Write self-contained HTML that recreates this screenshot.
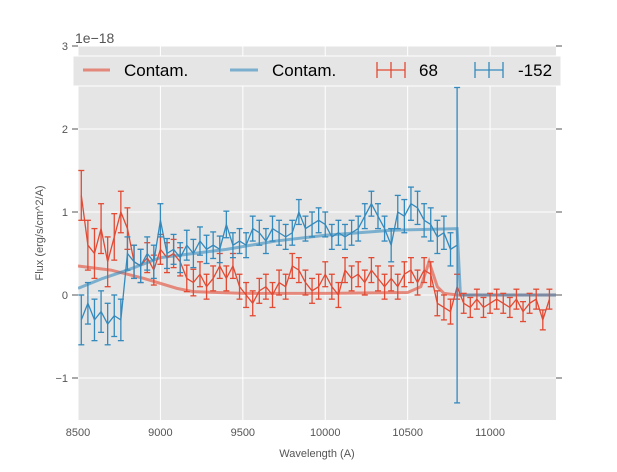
<!DOCTYPE html>
<html><head><meta charset="utf-8"><style>
body{margin:0;background:#fff;font-family:"Liberation Sans",sans-serif}
svg text{font-family:"Liberation Sans",sans-serif}
</style></head><body>
<svg id="chart" width="617" height="467" xmlns="http://www.w3.org/2000/svg">
<rect x="78" y="46" width="478" height="374" fill="#e5e5e5"/>
<g id="grid"></g><g id="ticks"></g><g id="series"></g>
<text x="75" y="43" font-size="14" fill="#555">1e−18</text>
<text x="317" y="457" font-size="11" fill="#555" text-anchor="middle">Wavelength (A)</text>
<text transform="translate(43,233) rotate(-90)" font-size="11" fill="#555" text-anchor="middle">Flux (erg/s/cm^2/A)</text>
<g>
<rect x="73" y="56" width="488" height="30" fill="#e5e5e5" stroke="#fff"/>
<g><line x1="83" y1="70" x2="110" y2="70" stroke="#E24A33" stroke-opacity="0.6" stroke-width="3"/><text x="124" y="76" font-size="17" fill="#000">Contam.</text></g>
<g><line x1="230" y1="70" x2="258" y2="70" stroke="#348ABD" stroke-opacity="0.6" stroke-width="3"/><text x="272" y="76" font-size="17" fill="#000">Contam.</text></g>
<g stroke="#E24A33" stroke-width="1.3"><line x1="377" y1="70" x2="405" y2="70"/><line x1="377" y1="62" x2="377" y2="78"/><line x1="405" y1="62" x2="405" y2="78"/><line x1="391" y1="62" x2="391" y2="78"/><text x="419" y="76" font-size="17" fill="#000" stroke="none">68</text></g>
<g stroke="#348ABD" stroke-width="1.3"><line x1="475" y1="70" x2="503" y2="70"/><line x1="475" y1="62" x2="475" y2="78"/><line x1="503" y1="62" x2="503" y2="78"/><line x1="489" y1="62" x2="489" y2="78"/><text x="518" y="76" font-size="17" fill="#000" stroke="none">-152</text></g>
</g>
</svg>
<script>
const xTicks=[8500,9000,9500,10000,10500,11000];
const yTicks=[-1,0,1,2,3];
const yTickLabels=["−1","0","1","2","3"];
const wlStart=8520, wlStep=40;
const red68=[1.2,0.6,0.5,0.8,0.4,0.7,1.0,0.8,0.4,0.35,0.45,0.3,0.55,0.45,0.5,0.4,0.2,0.15,0.25,0.1,0.2,0.35,0.2,0.35,0.1,0.0,-0.1,0.05,0.1,0.0,0.15,0.1,0.35,0.3,0.15,0.05,0.1,0.25,0.1,0.0,0.3,0.2,0.25,0.15,0.3,0.2,0.1,0.2,0.1,0.25,0.3,0.15,0.3,0.25,-0.1,-0.15,-0.2,0.1,-0.1,-0.15,-0.05,-0.15,-0.1,-0.05,-0.1,-0.15,-0.05,-0.2,-0.1,-0.05,-0.3,-0.05];
const red68Err=[0.3,0.3,0.3,0.3,0.3,0.28,0.25,0.25,0.2,0.2,0.18,0.18,0.18,0.18,0.17,0.17,0.16,0.16,0.15,0.15,0.15,0.15,0.15,0.15,0.15,0.15,0.15,0.15,0.15,0.15,0.15,0.15,0.15,0.15,0.15,0.15,0.15,0.15,0.15,0.15,0.15,0.15,0.15,0.15,0.15,0.15,0.15,0.15,0.15,0.15,0.15,0.15,0.15,0.15,0.15,0.15,0.15,0.15,0.12,0.12,0.12,0.12,0.12,0.12,0.12,0.12,0.12,0.12,0.12,0.12,0.12,0.12];
const blue152=[-0.3,-0.1,-0.3,-0.2,-0.35,-0.25,-0.3,0.5,0.4,0.35,0.5,0.4,0.9,0.5,0.55,0.45,0.6,0.5,0.65,0.55,0.6,0.55,0.85,0.6,0.65,0.6,0.8,0.75,0.65,0.8,0.75,0.7,0.75,1.0,0.8,0.85,0.9,0.85,0.7,0.75,0.7,0.75,0.8,0.95,1.1,0.95,0.8,0.6,1.0,0.95,1.1,1.05,0.9,0.85,0.7,0.75,0.55,0.6];
const blue152Err=[0.3,0.25,0.25,0.25,0.25,0.25,0.25,0.2,0.2,0.2,0.2,0.2,0.2,0.18,0.18,0.18,0.18,0.17,0.17,0.17,0.16,0.16,0.16,0.15,0.15,0.15,0.15,0.15,0.15,0.15,0.15,0.15,0.15,0.15,0.15,0.15,0.15,0.15,0.15,0.15,0.15,0.15,0.15,0.15,0.15,0.15,0.15,0.2,0.2,0.2,0.2,0.2,0.2,0.2,0.2,0.2,0.2,1.9];
const contamWl=[8500,8700,8900,9100,9200,9500,10000,10500,10580,10630,10680,10720,10800,10820,11400];
const contamRed=[0.35,0.3,0.2,0.08,0.04,0.02,0.02,0.03,0.1,0.4,0.1,0.02,0.0,0.0,0.0];
const contamBlueWl=[8500,8650,8800,9000,9200,9400,9700,10000,10400,10800,10820,11400];
const contamBlue=[0.08,0.2,0.3,0.45,0.5,0.55,0.65,0.72,0.78,0.8,0.0,0.0];
const X=v=>78+(v-8500)*478/2900, Y=v=>295-v*83;
const NS="http://www.w3.org/2000/svg";
function mk(p,tag,at){const e=document.createElementNS(NS,tag);for(const k in at)e.setAttribute(k,at[k]);p.appendChild(e);return e;}
const grid=document.getElementById('grid'),ticks=document.getElementById('ticks'),ser=document.getElementById('series');
xTicks.forEach(t=>{const g=mk(grid,'line',{x1:X(t),x2:X(t),y1:46,y2:420,stroke:'#fff','stroke-width':1});


const l=mk(ticks,'text',{x:X(t),y:436,'font-size':11,fill:'#555','text-anchor':'middle'});l.textContent=t;

});
yTicks.forEach((t,i)=>{const g=mk(grid,'line',{x1:78,x2:556,y1:Y(t),y2:Y(t),stroke:'#fff','stroke-width':1});


mk(ticks,'line',{x1:72,x2:78,y1:Y(t),y2:Y(t),stroke:'#555'});mk(ticks,'line',{x1:556,x2:562,y1:Y(t),y2:Y(t),stroke:'#555'});
const l=mk(ticks,'text',{x:68,y:Y(t)+4,'font-size':11,fill:'#555','text-anchor':'end'});l.textContent=yTickLabels[i];

});
const clip=mk(document.getElementById('chart'),'clipPath',{id:'pc'});mk(clip,'rect',{x:78,y:46,width:478,height:374});
ser.setAttribute('clip-path','url(#pc)');
function contam(wl,vals,col,name){const p=mk(ser,'polyline',{points:wl.map((w,i)=>X(w)+','+Y(vals[i])).join(' '),fill:'none',stroke:col,'stroke-opacity':0.6,'stroke-width':3});

}
function errs(vals,err,col,name){const g=mk(ser,'g',{stroke:col,'stroke-width':1.3,fill:'none'});


vals.forEach((v,i)=>{const x=X(wlStart+wlStep*i);mk(g,'line',{x1:x,x2:x,y1:Y(v+err[i]),y2:Y(v-err[i])});
mk(g,'line',{x1:x-3,x2:x+3,y1:Y(v+err[i]),y2:Y(v+err[i])});mk(g,'line',{x1:x-3,x2:x+3,y1:Y(v-err[i]),y2:Y(v-err[i])});});
mk(g,'polyline',{points:vals.map((v,i)=>X(wlStart+wlStep*i)+','+Y(v)).join(' ')});}
contam(contamWl,contamRed,'#E24A33','contam-line-red');
contam(contamBlueWl,contamBlue,'#348ABD','contam-line-blue');
errs(red68,red68Err,'#E24A33','series-68');
errs(blue152,blue152Err,'#348ABD','series-152');
</script>
</body></html>
